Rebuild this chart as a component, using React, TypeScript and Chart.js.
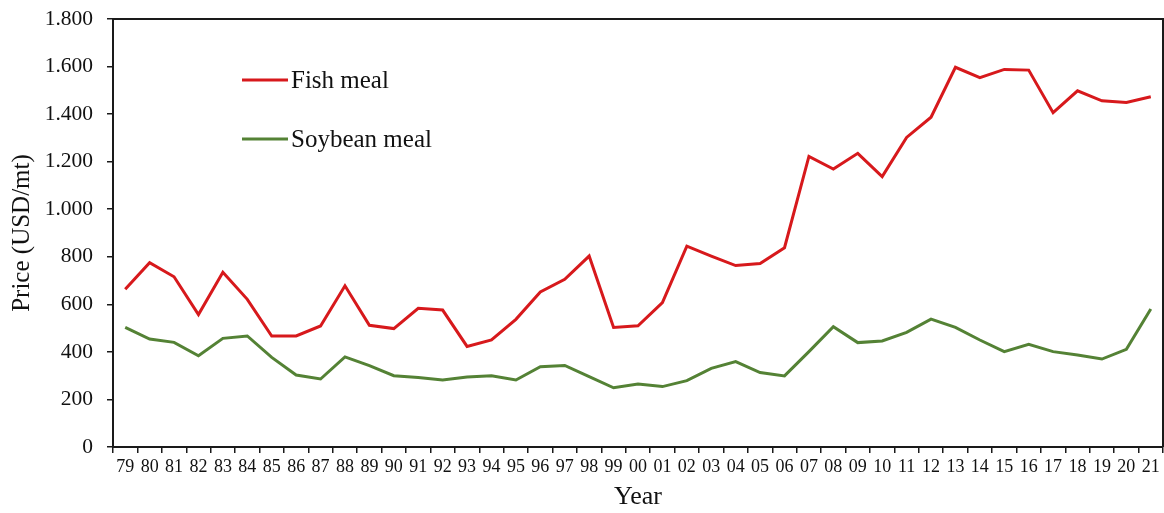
import React, { useEffect, useRef } from "react";
import { Chart, registerables } from "chart.js";

Chart.register(...registerables);

const years: string[] = [
  "79", "80", "81", "82", "83", "84", "85", "86", "87", "88", "89", "90", "91", "92", "93", "94",
  "95", "96", "97", "98", "99", "00", "01", "02", "03", "04", "05", "06", "07", "08", "09", "10",
  "11", "12", "13", "14", "15", "16", "17", "18", "19", "20", "21",
];

const fishMeal: number[] = [
  663, 775, 716, 557, 735, 621, 467, 467, 509, 678, 512, 498, 583, 576, 423, 450,
  537, 652, 705, 803, 503, 510, 607, 845, 803, 763, 772, 838,
  1222, 1169, 1235, 1137, 1302, 1387, 1597, 1553, 1588, 1585, 1406, 1498, 1456, 1449, 1473,
];

const soybeanMeal: number[] = [
  503, 454, 440, 384, 457, 467, 377, 303, 286, 379, 342, 300, 292, 282, 294, 300,
  282, 338, 343, 296, 249, 265, 254, 279, 331, 359, 313, 299, 401, 506,
  439, 446, 482, 538, 503, 450, 401, 432, 401, 387, 370, 411, 580,
];

const seriesNames: string[] = ["Fish meal", "Soybean meal"];
const seriesColors: string[] = ["#d7191c", "#548235"];

const FONT = "'Liberation Serif', 'Times New Roman', serif";

const frameAndLegend = {
  id: "frameAndLegend",
  afterDraw(chart: any) {
    const { ctx, chartArea } = chart;
    const { left, right, top, bottom } = chartArea;
    ctx.save();
    ctx.strokeStyle = "#1a1a1a";
    ctx.lineWidth = 2;
    ctx.beginPath();
    ctx.moveTo(left, top);
    ctx.lineTo(right, top);
    ctx.lineTo(right, bottom);
    ctx.stroke();

    // legend
    const lx = left + 129;
    const rows = [top + 61, top + 120];
    ctx.font = `25px ${FONT}`;
    ctx.textBaseline = "middle";
    ctx.textAlign = "left";
    chart.data.datasets.forEach((ds: any, i: number) => {
      const y = rows[i];
      ctx.strokeStyle = ds.borderColor;
      ctx.lineWidth = 3;
      ctx.beginPath();
      ctx.moveTo(lx, y);
      ctx.lineTo(lx + 46, y);
      ctx.stroke();
      ctx.fillStyle = "#111";
      ctx.fillText(ds.label, lx + 49, y + 1);
    });
    ctx.restore();
  },
};

export default function App() {
  const ref = useRef<HTMLCanvasElement | null>(null);

  useEffect(() => {
    document.body.style.margin = "0";
    const canvas = ref.current;
    if (!canvas) return;
    const chart = new Chart(canvas, {
      type: "line",
      data: {
        labels: years,
        datasets: [
          {
            label: seriesNames[0],
            data: fishMeal,
            borderColor: seriesColors[0],
            backgroundColor: seriesColors[0],
            borderWidth: 3,
            pointRadius: 0,
            tension: 0,
          },
          {
            label: seriesNames[1],
            data: soybeanMeal,
            borderColor: seriesColors[1],
            backgroundColor: seriesColors[1],
            borderWidth: 3,
            pointRadius: 0,
            tension: 0,
          },
        ],
      },
      options: {
        animation: false,
        responsive: false,
        maintainAspectRatio: false,
        layout: { padding: { top: 19, right: 1, left: 0, bottom: 0 } },
        plugins: {
          legend: { display: false },
          tooltip: { enabled: false },
        },
        scales: {
          x: {
            type: "category",
            offset: true,
            afterFit: (s: any) => {
              s.height = 66;
            },
            grid: {
              offset: true,
              drawOnChartArea: false,
              drawTicks: true,
              tickLength: 6,
              color: "#1a1a1a",
              lineWidth: 1.5,
            },
            border: { display: true, color: "#1a1a1a", width: 2 },
            ticks: {
              autoSkip: false,
              maxRotation: 0,
              minRotation: 0,
              padding: 3,
              color: "#111",
              font: { family: FONT, size: 18 },
            },
            title: {
              display: true,
              text: "Year",
              color: "#111",
              font: { family: FONT, size: 26 },
              padding: { top: -1, bottom: 0 },
            },
          },
          y: {
            min: 0,
            max: 1800,
            afterFit: (s: any) => {
              s.width = 113;
              s.paddingTop = 0;
              s.paddingBottom = 0;
            },
            grid: {
              drawOnChartArea: false,
              drawTicks: true,
              tickLength: 6,
              color: "#1a1a1a",
              lineWidth: 1.5,
            },
            border: { display: true, color: "#1a1a1a", width: 2 },
            ticks: {
              stepSize: 200,
              padding: 14,
              color: "#111",
              font: { family: FONT, size: 21.5, lineHeight: 0.5 },
              callback: (v: any) => {
                const n = Number(v);
                return n >= 1000
                  ? `${Math.floor(n / 1000)}.${String(n % 1000).padStart(3, "0")}`
                  : String(n);
              },
            },
            title: {
              display: true,
              text: "Price (USD/mt)",
              color: "#111",
              font: { family: FONT, size: 25 },
              padding: { top: 7.5, bottom: 0 },
            },
          },
        },
      },
      plugins: [frameAndLegend],
    });
    return () => chart.destroy();
  }, []);

  return (
    <div style={{ width: 1164, height: 513, background: "#fff" }}>
      <canvas ref={ref} width={1164} height={513} style={{ display: "block" }} />
    </div>
  );
}
